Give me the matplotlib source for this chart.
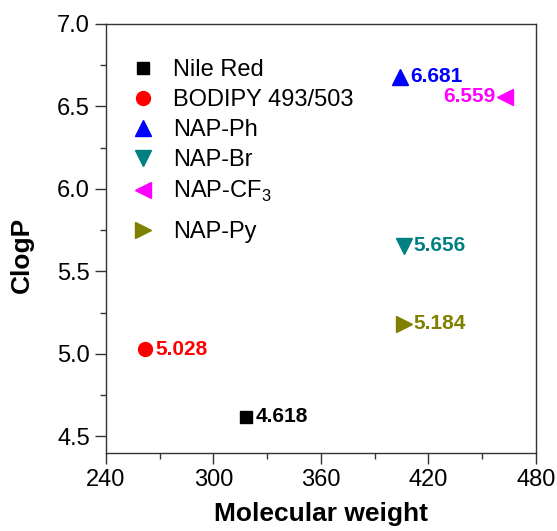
import matplotlib
matplotlib.use("Agg")
import matplotlib.pyplot as plt
from matplotlib.ticker import MultipleLocator

plt.rcParams['font.family'] = ['Liberation Sans', 'DejaVu Sans']
plt.rcParams['mathtext.fontset'] = 'custom'
plt.rcParams['mathtext.rm'] = 'Liberation Sans'

names = ["Nile Red", "BODIPY 493/503", "NAP-Ph", "NAP-Br", "NAP-CF$_3$", "NAP-Py"]
mol_weight = [318.4, 262.1, 404.3, 406.2, 463.0, 406.2]
clogp = [4.618, 5.028, 6.681, 5.656, 6.559, 5.184]
value_labels = ["4.618", "5.028", "6.681", "5.656", "6.559", "5.184"]
markers = ["s", "o", "^", "v", "<", ">"]
colors = ["#000000", "#ff0000", "#0000ff", "#008080", "#ff00ff", "#808000"]
sizes = [9, 10, 11, 11, 11, 11]

fig = plt.figure(figsize=(5.57, 5.31), dpi=100)
ax = fig.add_axes([0.190, 0.147, 0.772, 0.808])

handles = []
for n, x, y, m, c, s, lab in zip(names, mol_weight, clogp, markers, colors, sizes, value_labels):
    h, = ax.plot([x], [y], linestyle='none', marker=m, color=c, markersize=s, label=n)
    handles.append(h)
    if m == "<":
        ax.annotate(lab, (x, y), xytext=(-7, 0), textcoords='offset points',
                    ha='right', va='center', color=c, fontsize=15, fontweight='bold')
    else:
        ax.annotate(lab, (x, y), xytext=(7, 0), textcoords='offset points',
                    ha='left', va='center', color=c, fontsize=15, fontweight='bold')

ax.set_xlim(240, 480)
ax.set_ylim(4.4, 7.0)
ax.xaxis.set_major_locator(MultipleLocator(60))
ax.xaxis.set_minor_locator(MultipleLocator(30))
ax.yaxis.set_major_locator(MultipleLocator(0.5))
ax.yaxis.set_minor_locator(MultipleLocator(0.25))
ax.yaxis.set_major_formatter(matplotlib.ticker.FormatStrFormatter('%.1f'))
ax.tick_params(which='major', direction='out', length=8, width=1, labelsize=17, color='#333333')
ax.tick_params(which='minor', direction='out', length=4, width=1, color='#333333')
for sp in ax.spines.values():
    sp.set_color('#333333')
    sp.set_linewidth(1)

ax.set_xlabel("Molecular weight", fontsize=19, fontweight='bold', labelpad=8)
ax.set_ylabel("ClogP", fontsize=19, fontweight='bold')
ax.yaxis.set_label_coords(-0.168, 0.461)

leg_kw = dict(loc='upper left', frameon=False, fontsize=17, handletextpad=0.68,
              labelspacing=0.34, handlelength=1.2, borderaxespad=0, borderpad=0)
leg1 = ax.legend(handles[:5], names[:5], bbox_to_anchor=(0.054, 0.918), **leg_kw)
ax.add_artist(leg1)
ax.legend(handles[5:], names[5:], bbox_to_anchor=(0.054, 0.540), **leg_kw)

fig.savefig("out.png", dpi=100)
